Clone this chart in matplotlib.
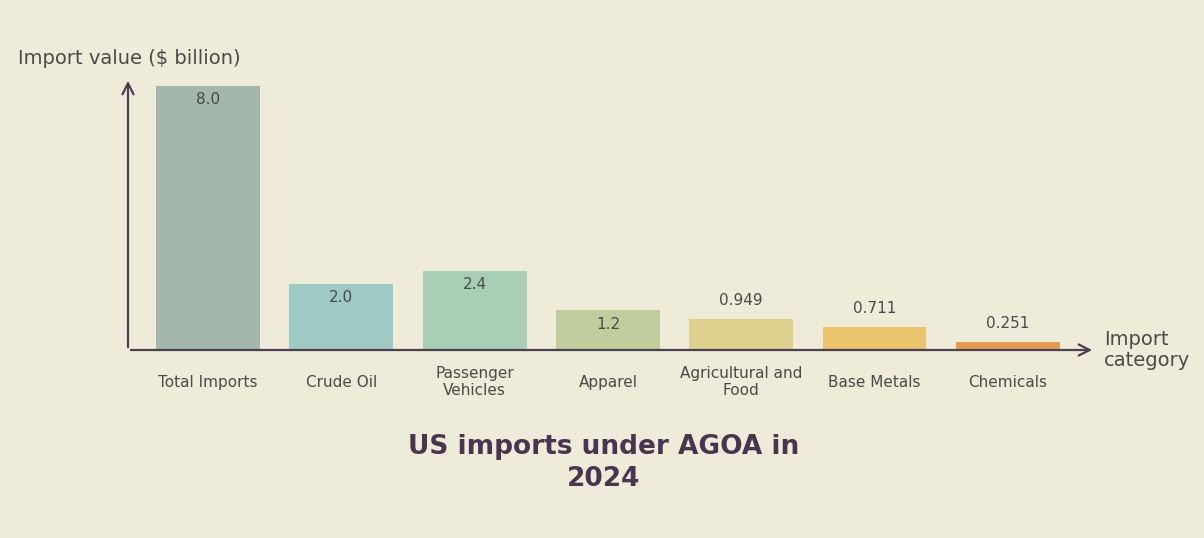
import matplotlib
matplotlib.use("Agg")
import matplotlib.pyplot as plt

categories = ["Total Imports", "Crude Oil", "Passenger\nVehicles", "Apparel",
              "Agricultural and\nFood", "Base Metals", "Chemicals"]
values = [8.0, 2.0, 2.4, 1.2, 0.949, 0.711, 0.251]
labels = ["8.0", "2.0", "2.4", "1.2", "0.949", "0.711", "0.251"]
colors = ["#a3b7ab", "#9ecac6", "#a8cfb6", "#c1cd9c", "#ddcf8c", "#e9c46c", "#e39a52"]

bg = "#efebd9"
W, H = 1204, 538
fig = plt.figure(figsize=(W/100, H/100), dpi=100, facecolor=bg)
x0, x1, y0, y1 = 128, 1095, 350, 78
ax = fig.add_axes([x0/W, 1-y0/H, (x1-x0)/W, (y0-y1)/H])
ax.set_facecolor("none")
ax.set_xlim(-0.6, (x1-208)/133.3)
ax.set_ylim(0, (y0-y1)/33.0)
for s in ax.spines.values():
    s.set_visible(False)
ax.set_xticks([]); ax.set_yticks([])

xs = list(range(len(values)))
ax.bar(xs, values, width=0.78, color=colors)
txt = "#4a4a4a"
for x, v, l in zip(xs, values, labels):
    if v >= 1.0:
        ax.text(x, v - 0.42, l, ha="center", va="center", fontsize=11, color=txt)
    else:
        ax.text(x, v + 0.55, l, ha="center", va="center", fontsize=11, color=txt)
    ax.text(x, -0.97, categories[xs.index(x)], ha="center", va="center",
            fontsize=11, color=txt, linespacing=1.1)

axc = "#4a4050"
ax.annotate("", xy=(1.0, 0), xytext=(0, 0), xycoords="axes fraction",
            arrowprops=dict(arrowstyle="->", color=axc, lw=1.6, mutation_scale=20))
ax.annotate("", xy=(0, 1.0), xytext=(0, 0), xycoords="axes fraction",
            arrowprops=dict(arrowstyle="->", color=axc, lw=1.6, mutation_scale=20))

fig.text(18/W, 1-58/H, "Import value ($ billion)", fontsize=14, color=txt, va="center", ha="left")
fig.text(1104/W, 1-350/H, "Import\ncategory", fontsize=14, color=txt, va="center", ha="left",
         linespacing=1.1)
fig.text(604/W, 1-463/H, "US imports under AGOA in\n2024", fontsize=19, fontweight="bold",
         color="#4a3550", ha="center", va="center", linespacing=1.3)

fig.savefig("out.png", dpi=100, facecolor=bg)
